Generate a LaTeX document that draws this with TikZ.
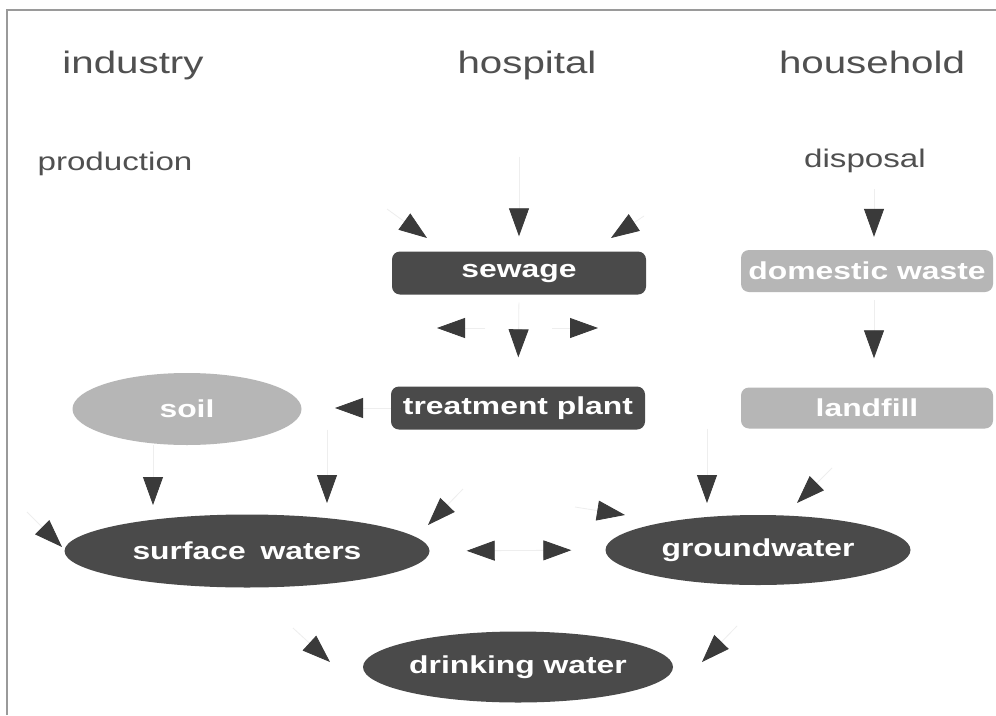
\documentclass[tikz,border=0pt]{standalone}
\usepackage{fontspec}
\setmainfont{Liberation Sans}[FakeStretch=1.3]
\usetikzlibrary{arrows.meta,shapes.geometric,calc}
\definecolor{darkbox}{HTML}{4A4A4A}
\definecolor{lightbox}{HTML}{B6B6B6}
\definecolor{headc}{HTML}{505050}
\definecolor{tipc}{HTML}{3A3A3A}
\definecolor{linec}{HTML}{EEEEEE}
\definecolor{framec}{HTML}{9A9A9A}
\tikzset{
  head/.style={text=headc, inner sep=2pt, font=\fontsize{31}{36}\selectfont},
  subhead/.style={text=headc, inner sep=2pt, font=\fontsize{25.5}{30}\selectfont},
  darkrect/.style={rectangle, rounded corners=8pt, fill=darkbox, text=white, inner sep=0pt,
    minimum width=254pt, minimum height=43pt, font=\bfseries\fontsize{24.5}{28}\selectfont},
  lightrect/.style={darkrect, fill=lightbox},
  darkell/.style={ellipse, fill=darkbox, text=white, inner sep=0pt,
    font=\bfseries\fontsize{24.5}{28}\selectfont},
  lightell/.style={darkell, fill=lightbox},
  arr/.style={draw=linec, line width=0.8pt, -{Triangle[length=28pt,width=20pt,color=tipc]}},
  arrboth/.style={draw=linec, line width=0.8pt,
    {Triangle[length=28pt,width=20pt,color=tipc]}-{Triangle[length=28pt,width=20pt,color=tipc]}}
}
\begin{document}
\begin{tikzpicture}[x=1pt, y=-1pt]
\useasboundingbox (0,0) rectangle (996,715);
\fill[white] (0,0) rectangle (996,715);
\draw[framec, line width=1.5pt] (7,715) -- (7,10) -- (996,10);

% headings
\node[head, anchor=base] (industry) at (133,73) {industry};
\node[head, anchor=base] (hospital) at (527,73) {hospital};
\node[head, anchor=base] (household) at (872,73) {household};
\node[subhead, anchor=base] (production) at (115,170) {production};
\node[subhead, anchor=base] (disposal) at (865,167) {disposal};

% boxes
\node[darkrect] (sewage) at (519,273) {sewage};
\node[darkrect] (treatment) at (518,408) {treatment plant};
\node[lightrect, minimum width=252pt, minimum height=42pt] (domestic) at (867,271) {domestic waste};
\node[lightrect, minimum width=252pt, minimum height=41pt] (landfill) at (867,408) {landfill};

% ellipses
\node[lightell, minimum width=229pt, minimum height=72pt] (soil) at (187,409) {soil};
\node[darkell, minimum width=365pt, minimum height=73pt] (surface) at (247,551) {surface\hspace{0.6em}waters};
\node[darkell, minimum width=305pt, minimum height=70pt] (groundwater) at (758,550) {groundwater};
\node[darkell, minimum width=310pt, minimum height=71pt] (drinking) at (518,667) {drinking water};

% vertical connectors
\draw[arr, shorten <=75pt, shorten >=15pt] (hospital.south -| sewage.north) -- (sewage.north);
\draw[arr, shorten <=8pt, shorten >=29pt] (sewage.south) -- (treatment.north);
\coordinate (dtop) at ($(domestic.north)+(7,0)$);
\coordinate (dbot) at ($(domestic.south)+(7,0)$);
\coordinate (ltop) at ($(landfill.north)+(7,0)$);
\draw[arr, shorten <=15pt, shorten >=13pt] (dtop |- disposal.south) -- (dtop);
\draw[arr, shorten <=8pt, shorten >=29pt] (dbot) -- (ltop);

% arrows around sewage
\coordinate (a2s) at (387,209); \coordinate (a2t) at (427,238);
\draw[arr] (a2s) -- (a2t);
\coordinate (a3s) at (644,216); \coordinate (a3t) at (611,238);
\draw[arr] (a3s) -- (a3t);
\coordinate (a5s) at (485,328); \coordinate (a5t) at (437,328);
\draw[arr] (a5s) -- (a5t);
\coordinate (a6s) at (552,328); \coordinate (a6t) at (598,328);
\draw[arr] (a6s) -- (a6t);

% treatment plant -> soil
\coordinate (a7t) at (335,408);
\draw[arr] (treatment.west) -- (a7t);

% down into surface waters
\coordinate (a8t) at (153,505);
\draw[arr] (a8t |- soil.south) -- (a8t);
\coordinate (a9t) at (327,503);
\draw[arr] (a9t |- treatment.south) -- (a9t);
\coordinate (a10s) at (463,489); \coordinate (a10t) at (428,525);
\draw[arr] (a10s) -- (a10t);
\coordinate (a14s) at (27,512); \coordinate (a14t) at (62,547);
\draw[arr] (a14s) -- (a14t);

% into groundwater
\coordinate (a11s) at (575,507); \coordinate (a11t) at (625,515);
\draw[arr] (a11s) -- (a11t);
\coordinate (a12t) at (707,503);
\draw[arr] (a12t |- landfill.south) -- (a12t);
\coordinate (a13s) at (832,468); \coordinate (a13t) at (797,503);
\draw[arr] (a13s) -- (a13t);

% surface waters <-> groundwater
\draw[arrboth, shorten <=37pt, shorten >=34pt] (surface.east) -- (groundwater.west);

% towards drinking water
\coordinate (a16s) at (293,628); \coordinate (a16t) at (330,662);
\draw[arr] (a16s) -- (a16t);
\coordinate (a17s) at (737,626); \coordinate (a17t) at (702,662);
\draw[arr] (a17s) -- (a17t);
\end{tikzpicture}
\end{document}
